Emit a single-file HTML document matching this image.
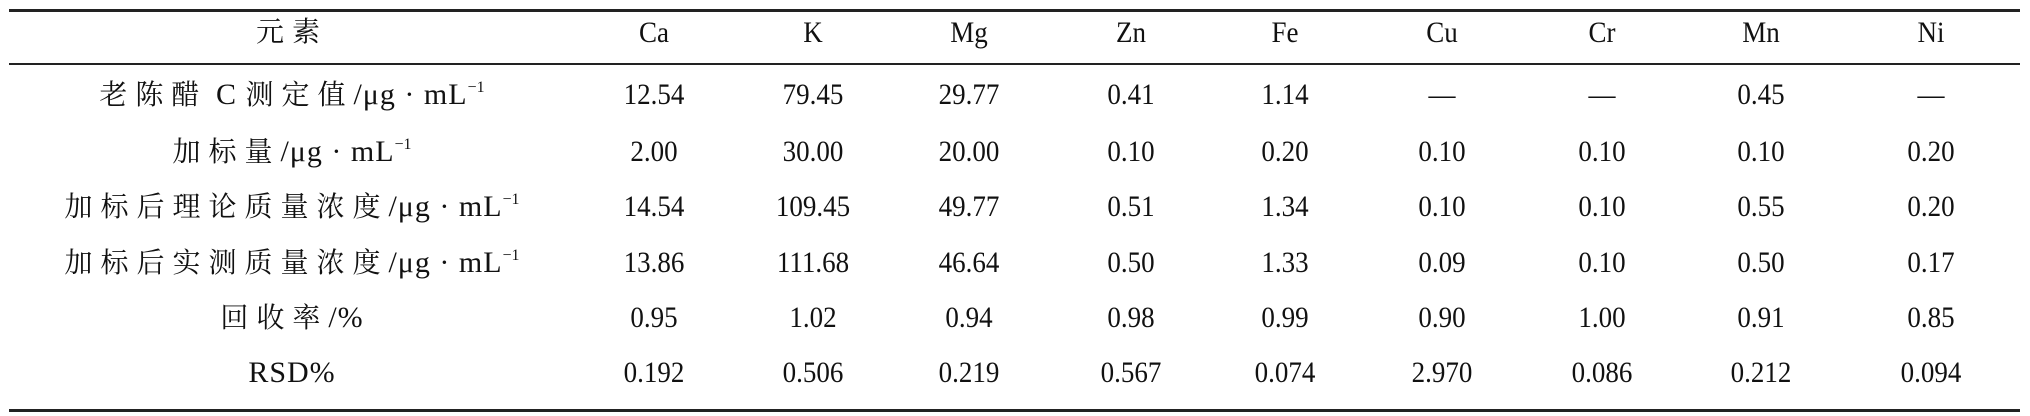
<!DOCTYPE html>
<html><head><meta charset="utf-8">
<style>
body{margin:0;width:2030px;height:416px;background:#fff;overflow:hidden;position:relative;font-family:"Liberation Serif","Noto Serif CJK SC",serif;color:#111}
.line{position:absolute;left:9px;width:2011px;background:#222}
.c{position:absolute;transform:translate(-50%,-50%) scaleX(0.9);white-space:nowrap;font-size:30px;line-height:1}
.lab{letter-spacing:8px;font-size:28px;transform:translate(-50%,-50%)}
.lab span{letter-spacing:1px;font-size:30px}
sup{font-size:16px;vertical-align:12px;letter-spacing:0}
</style></head><body>
<div class="line" style="top:9px;height:3px"></div>
<div class="line" style="top:63px;height:2px"></div>
<div class="line" style="top:409px;height:3px"></div>
<div id="t"></div>
<script>
const cols=["Ca","K","Mg","Zn","Fe","Cu","Cr","Mn","Ni"];
const colX=[654,813,969,1131,1285,1442,1602,1761,1931];
const rowY=[33,95,152,207,263,318,373];
const labels=["元素","老陈醋<span> C </span>测定值<span>/μg · mL<sup>−1</sup></span>","加标量<span>/μg · mL<sup>−1</sup></span>","加标后理论质量浓度<span>/μg · mL<sup>−1</sup></span>","加标后实测质量浓度<span>/μg · mL<sup>−1</sup></span>","回收率<span>/%</span>","<span>RSD%</span>"];
const rows=[
["12.54","79.45","29.77","0.41","1.14","—","—","0.45","—"],
["2.00","30.00","20.00","0.10","0.20","0.10","0.10","0.10","0.20"],
["14.54","109.45","49.77","0.51","1.34","0.10","0.10","0.55","0.20"],
["13.86","111.68","46.64","0.50","1.33","0.09","0.10","0.50","0.17"],
["0.95","1.02","0.94","0.98","0.99","0.90","1.00","0.91","0.85"],
["0.192","0.506","0.219","0.567","0.074","2.970","0.086","0.212","0.094"]];
const t=document.getElementById('t');
function cell(x,y,html,cls,name){const d=document.createElement('div');d.className='c '+(cls||'');d.style.left=x+'px';d.style.top=y+'px';d.innerHTML=html;


t.appendChild(d);}
labels.forEach((l,i)=>cell(292,rowY[i],l,'lab',i==0?'header-element':'row-label-'+i));
cols.forEach((c,j)=>cell(colX[j],rowY[0],c,'', 'header-'+c.toLowerCase()));
rows.forEach((r,i)=>r.forEach((v,j)=>cell(colX[j],rowY[i+1],v,'','cell-'+(i+1)+'-'+cols[j].toLowerCase())));
</script>
</body></html>
